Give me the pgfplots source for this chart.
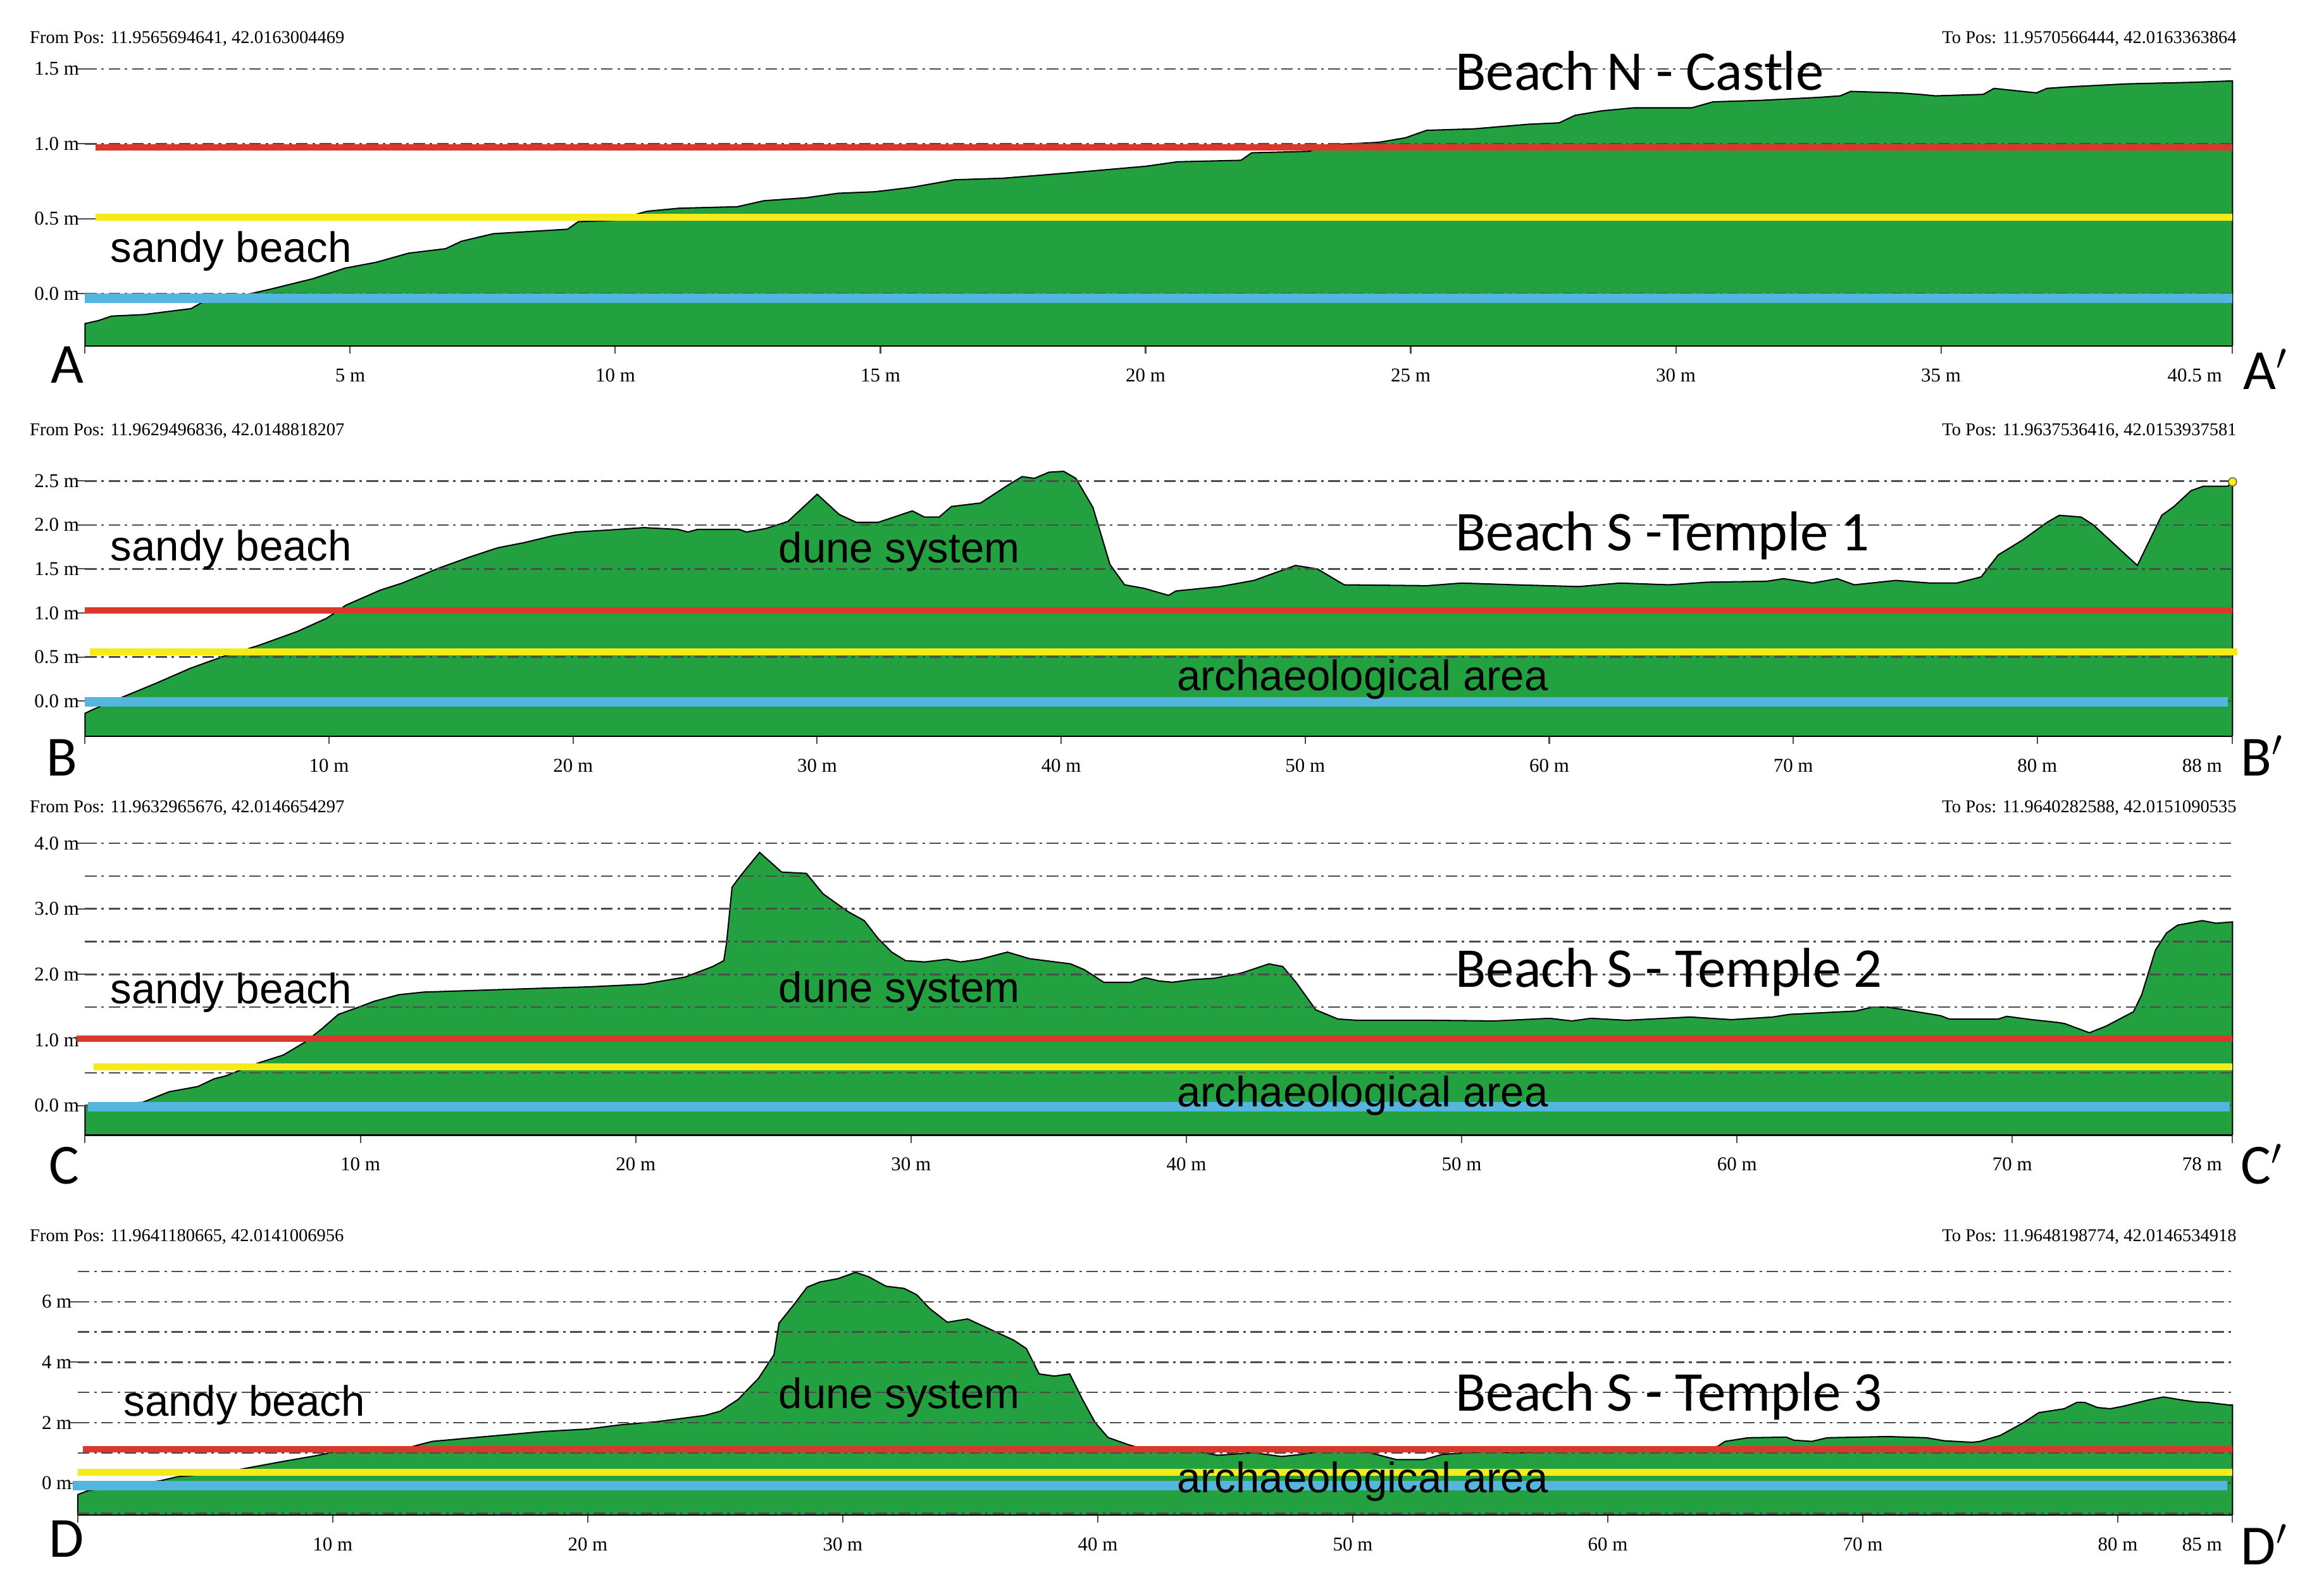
\documentclass[border=0pt]{standalone}
\usepackage{fontspec}
\setmainfont{Liberation Serif}
\newfontfamily\labfont{Liberation Sans}
\newfontfamily\bigfont{Carlito}
\usepackage{pgfplots}
\pgfplotsset{compat=1.18}

\definecolor{terrain}{RGB}{35,160,64}
\definecolor{seared}{RGB}{218,56,42}
\definecolor{seayel}{RGB}{245,235,25}
\definecolor{seablue}{RGB}{84,182,222}

\pgfplotsset{
  profile/.style={
    scale only axis, set layers, clip=false,
    axis x line=bottom, axis y line=left,
    x axis line style={-, draw=black, line width=0.6pt},
    y axis line style={draw=none},
    tick align=outside,
    xtick style={draw=black!70, line width=0.5pt},
    ytick style={draw=black!70, line width=0.5pt},
    major tick length=3pt, minor tick length=0pt,
    ymajorgrids, yminorgrids,
    major grid style={draw=black!70, line width=0.6pt, dash pattern=on 4.5pt off 1.8pt on 1pt off 1.8pt},
    minor grid style={draw=black!70, line width=0.6pt, dash pattern=on 4.5pt off 1.8pt on 1pt off 1.8pt},
    tick label style={font=\fontsize{7.6}{8}\selectfont, text=black},
    xticklabel style={yshift=-0.8mm},
    yticklabel style={inner sep=0pt, xshift=0.3mm},
    extra x tick style={xticklabel style={anchor=north east, xshift=-0.2mm}},
    xmin=0,
  },
  ground/.style={on layer=axis background, fill=terrain, draw=black, line width=0.5pt},
  redl/.style={seared, line width=2.5pt},
  yell/.style={seayel, line width=2.8pt},
  bluel/.style={seablue, line width=3.6pt},
}
\tikzset{
  coordtxt/.style={inner sep=0pt, font=\fontsize{7.0}{8}\selectfont},
  zonelab/.style={inner sep=0pt, anchor=base west, font=\labfont\fontsize{16.5}{18}\selectfont},
  ttl/.style={inner sep=0pt, anchor=base west, font=\bigfont\fontsize{21.8}{24}\selectfont},
  secl/.style={inner sep=0pt, anchor=base west, font=\bigfont\fontsize{22}{24}\selectfont},
}

\begin{document}
\begin{tikzpicture}

% A - Beach N - Castle
\begin{axis}[profile, at={(11.6mm,170.4mm)}, anchor=south west,
  width=292.8mm, height=37.8mm, xmax=40.5, ymin=-0.35, ymax=1.5,
  xtick={0,5,10,15,20,25,30,35},
  xticklabels={{},5 m,10 m,15 m,20 m,25 m,30 m,35 m},
  extra x ticks={40.5}, extra x tick labels={40.5 m},
  ytick={0,0.5,1,1.5}, yticklabels={0.0 m,0.5 m,1.0 m,1.5 m}]
\addplot[ground] coordinates {
 (0,-0.35) (0,-0.20) (0.25,-0.18) (0.5,-0.15) (1.1,-0.14) (2.0,-0.10) (2.2,-0.06)
 (3.0,-0.01) (3.5,0.03) (4.3,0.10) (4.9,0.17) (5.5,0.21) (6.1,0.27) (6.8,0.30)
 (7.1,0.35) (7.7,0.40) (9.1,0.43) (9.3,0.48) (10.0,0.49) (10.6,0.55) (11.2,0.57)
 (12.3,0.58) (12.8,0.62) (13.6,0.64) (14.2,0.67) (14.9,0.68) (15.6,0.71) (16.4,0.76)
 (17.3,0.77) (18.7,0.81) (20.0,0.85) (20.6,0.88) (21.8,0.89) (22.0,0.94) (23.1,0.95)
 (23.3,0.99) (24.4,1.01) (24.9,1.04) (25.3,1.09) (26.2,1.10) (27.2,1.13) (27.8,1.14)
 (28.1,1.19) (28.6,1.22) (29.2,1.24) (30.3,1.24) (30.7,1.28) (31.6,1.29) (32.7,1.31)
 (33.1,1.32) (33.3,1.35) (34.2,1.34) (34.6,1.33) (34.9,1.32) (35.8,1.33) (36.0,1.37)
 (36.8,1.34) (37.0,1.37) (37.4,1.38) (38.5,1.40) (39.7,1.41) (40.5,1.42) (40.5,-0.35)};
\addplot[redl] coordinates {(0.2,0.975) (40.5,0.975)};
\addplot[yell] coordinates {(0.2,0.51) (40.5,0.51)};
\addplot[bluel] coordinates {(0,-0.03) (40.5,-0.03)};
\end{axis}

% B - Beach S - Temple 1
\begin{axis}[profile, at={(11.6mm,117.2mm)}, anchor=south west,
  width=292.8mm, height=34.8mm, xmax=88, ymin=-0.4, ymax=2.5,
  xtick={0,10,20,30,40,50,60,70,80},
  xticklabels={{},10 m,20 m,30 m,40 m,50 m,60 m,70 m,80 m},
  extra x ticks={88}, extra x tick labels={88 m},
  ytick={0,0.5,1,1.5,2,2.5}, yticklabels={0.0 m,0.5 m,1.0 m,1.5 m,2.0 m,2.5 m}]
\addplot[ground] coordinates {
 (0,-0.4) (0,-0.14) (0.3,-0.10) (1.5,0.04) (2.9,0.20) (4.3,0.37) (5.6,0.50) (7.1,0.63)
 (8.7,0.79) (9.9,0.94) (10.7,1.09) (12.1,1.26) (13.0,1.34) (14.5,1.51) (15.7,1.63)
 (16.9,1.74) (18.0,1.80) (19.2,1.88) (20.1,1.92) (21.3,1.94) (22.9,1.97) (24.3,1.95)
 (24.7,1.92) (25.1,1.95) (26.8,1.95) (27.1,1.92) (27.9,1.96) (28.8,2.04) (30.0,2.35)
 (30.9,2.12) (31.6,2.03) (32.5,2.03) (33.9,2.16) (34.4,2.09) (35.0,2.09) (35.5,2.21)
 (36.7,2.25) (37.8,2.45) (38.4,2.55) (38.9,2.53) (39.5,2.60) (40.1,2.61) (40.6,2.53)
 (41.3,2.20) (42.0,1.55) (42.6,1.32) (43.4,1.28) (44.4,1.20) (44.7,1.25) (46.5,1.30)
 (47.9,1.37) (49.6,1.54) (50.5,1.50) (51.6,1.32) (55.0,1.31) (56.4,1.34) (58.6,1.32)
 (61.2,1.30) (62.9,1.34) (64.9,1.32) (66.5,1.35) (68.9,1.36) (69.6,1.39) (70.8,1.34)
 (71.8,1.39) (72.5,1.32) (74.2,1.37) (75.6,1.34) (76.7,1.34) (77.7,1.41) (78.4,1.66)
 (79.4,1.83) (80.4,2.03) (80.9,2.11) (81.8,2.09) (82.3,2.00) (84.1,1.54) (85.1,2.11)
 (85.6,2.21) (86.3,2.39) (86.8,2.44) (87.8,2.44) (88,2.49) (88,-0.4)};
\addplot[redl] coordinates {(0,1.03) (88,1.03)};
\addplot[yell] coordinates {(0.2,0.56) (88.2,0.56)};
\addplot[bluel] coordinates {(0,-0.01) (87.8,-0.01)};
\addplot[only marks, mark=*, mark size=1.6pt, mark options={fill=yellow, draw=black!60}] coordinates {(88,2.49)};
\end{axis}

% C - Beach S - Temple 2
\begin{axis}[profile, at={(11.6mm,62.8mm)}, anchor=south west,
  width=292.8mm, height=39.8mm, xmax=78, ymin=-0.45, ymax=4,
  xtick={0,10,20,30,40,50,60,70},
  xticklabels={{},10 m,20 m,30 m,40 m,50 m,60 m,70 m},
  extra x ticks={78}, extra x tick labels={78 m},
  ytick={0,1,2,3,4}, yticklabels={0.0 m,1.0 m,2.0 m,3.0 m,4.0 m},
  minor ytick={0.5,1.5,2.5,3.5}]
\addplot[ground] coordinates {
 (0,-0.45) (0,0.0) (2.1,0.05) (3.05,0.21) (4.1,0.29) (4.7,0.41) (5.1,0.45) (6.3,0.65)
 (7.2,0.77) (8.0,0.97) (8.6,1.17) (9.2,1.39) (10.0,1.51) (10.5,1.59) (11.4,1.69)
 (12.3,1.73) (14.5,1.76) (16.7,1.79) (18.3,1.81) (20.3,1.85) (21.8,1.96) (22.8,2.12)
 (23.2,2.21) (23.3,2.48) (23.5,3.33) (23.8,3.50) (24.5,3.86) (25.3,3.56) (26.2,3.54)
 (26.8,3.23) (27.7,2.96) (28.3,2.82) (28.8,2.55) (29.3,2.34) (29.8,2.21) (30.5,2.19)
 (31.3,2.23) (31.8,2.19) (32.5,2.23) (33.5,2.34) (34.3,2.24) (35.8,2.16) (36.3,2.07)
 (37.0,1.88) (38.0,1.88) (38.5,1.95) (39.0,1.90) (39.5,1.88) (40.2,1.92) (41.0,1.94)
 (42.0,2.02) (43.0,2.16) (43.5,2.12) (44.0,1.87) (44.7,1.46) (45.5,1.32) (46.2,1.30)
 (48.7,1.30) (51.2,1.29) (53.2,1.33) (54.0,1.29) (54.7,1.33) (56.0,1.30) (58.3,1.35)
 (59.8,1.31) (61.3,1.35) (61.9,1.39) (64.3,1.44) (64.9,1.50) (65.5,1.50) (67.4,1.37)
 (67.7,1.32) (69.5,1.32) (69.8,1.36) (70.7,1.31) (71.6,1.27) (71.9,1.25) (72.8,1.11)
 (73.4,1.21) (74.4,1.43) (74.7,1.69) (75.2,2.37) (75.6,2.63) (76.0,2.75) (76.9,2.82)
 (77.4,2.78) (78.0,2.80) (78,-0.45)};
\addplot[redl] coordinates {(-0.3,1.02) (78,1.02)};
\addplot[yell] coordinates {(0.3,0.59) (78,0.59)};
\addplot[bluel] coordinates {(0.1,-0.02) (77.9,-0.02)};
\end{axis}

% D - Beach S - Temple 3
\begin{axis}[profile, at={(10.6mm,11.0mm)}, anchor=south west,
  width=293.8mm, height=33.2mm, xmax=84.5, ymin=-1.05, ymax=7,
  xtick={0,10,20,30,40,50,60,70,80},
  xticklabels={{},10 m,20 m,30 m,40 m,50 m,60 m,70 m,80 m},
  extra x ticks={84.5}, extra x tick labels={85 m},
  ytick={0,2,4,6}, yticklabels={0 m,2 m,4 m,6 m},
  minor ytick={-1,1,3,5,7}]
\addplot[ground] coordinates {
 (0,-1.05) (0,-0.38) (0.4,-0.25) (3.25,0.08) (3.9,0.21) (5.0,0.29) (6.4,0.46) (8.0,0.71)
 (9.3,0.90) (10.1,1.04) (12.8,1.13) (13.3,1.25) (13.9,1.38) (16.0,1.54) (18.3,1.71)
 (20.0,1.79) (21.3,1.93) (22.7,2.03) (24.6,2.24) (25.2,2.38) (25.9,2.77) (26.7,3.47)
 (27.3,4.24) (27.5,5.29) (28.1,5.92) (28.6,6.48) (29.1,6.65) (29.8,6.76) (30.5,6.97)
 (31.0,6.83) (31.7,6.51) (32.4,6.44) (32.9,6.23) (33.4,5.78) (34.1,5.32) (34.9,5.43)
 (35.9,5.04) (36.7,4.73) (37.2,4.45) (37.7,3.61) (38.3,3.54) (38.9,3.61) (39.4,2.77)
 (39.9,2.00) (40.4,1.51) (41.2,1.27) (41.5,1.20) (43.4,1.13) (44.7,0.92) (46.1,1.01)
 (47.2,0.88) (48.0,0.95) (49.0,1.09) (50.6,1.02) (51.7,0.78) (52.8,0.78) (53.5,0.95)
 (55.5,1.06) (56.3,0.99) (58.2,1.09) (62.7,1.13) (64.3,1.21) (64.6,1.38) (65.5,1.50)
 (67.0,1.52) (67.3,1.42) (68.0,1.38) (68.6,1.50) (71.0,1.54) (72.5,1.50) (73.2,1.40)
 (74.3,1.35) (74.6,1.38) (75.4,1.58) (76.3,2.00) (76.9,2.33) (77.9,2.46) (78.4,2.67)
 (78.7,2.67) (79.2,2.50) (79.7,2.46) (80.2,2.54) (81.2,2.75) (81.8,2.85) (82.5,2.75)
 (83.1,2.68) (83.5,2.67) (84.4,2.58) (84.5,2.58) (84.5,-1.05)};
\addplot[redl] coordinates {(0.2,1.12) (84.5,1.12)};
\addplot[yell] coordinates {(0,0.36) (84.5,0.36)};
\addplot[bluel] coordinates {(-0.2,-0.08) (84.3,-0.08)};
\end{axis}

% coordinates of the profile ends
\node[coordtxt, anchor=west] at (4.0mm,212.3mm) {From Pos: 11.9565694641, 42.0163004469};
\node[coordtxt, anchor=east] at (305.0mm,212.3mm) {To Pos: 11.9570566444, 42.0163363864};
\node[coordtxt, anchor=west] at (4.0mm,158.8mm) {From Pos: 11.9629496836, 42.0148818207};
\node[coordtxt, anchor=east] at (305.0mm,158.8mm) {To Pos: 11.9637536416, 42.0153937581};
\node[coordtxt, anchor=west] at (4.0mm,107.4mm) {From Pos: 11.9632965676, 42.0146654297};
\node[coordtxt, anchor=east] at (305.0mm,107.4mm) {To Pos: 11.9640282588, 42.0151090535};
\node[coordtxt, anchor=west] at (4.0mm,48.9mm) {From Pos: 11.9641180665, 42.0141006956};
\node[coordtxt, anchor=east] at (305.0mm,48.9mm) {To Pos: 11.9648198774, 42.0146534918};

% titles
\node[ttl] at (198.4mm,205.3mm) {Beach N - Castle};
\node[ttl] at (198.4mm,142.5mm) {Beach S -Temple 1};
\node[ttl] at (198.4mm,83.0mm) {Beach S - Temple 2};
\node[ttl] at (198.4mm,25.2mm) {Beach S - Temple 3};

% zone labels
\node[zonelab] at (15.0mm,181.8mm) {sandy beach};
\node[zonelab] at (15.0mm,141.1mm) {sandy beach};
\node[zonelab] at (106.1mm,140.9mm) {dune system};
\node[zonelab] at (160.4mm,123.4mm) {archaeological area};
\node[zonelab] at (15.0mm,80.7mm) {sandy beach};
\node[zonelab] at (106.1mm,80.9mm) {dune system};
\node[zonelab] at (160.4mm,66.7mm) {archaeological area};
\node[zonelab] at (16.8mm,24.5mm) {sandy beach};
\node[zonelab] at (106.1mm,25.5mm) {dune system};
\node[zonelab] at (160.4mm,14.0mm) {archaeological area};

% section letters
\node[secl] at (6.9mm,165.4mm) {A};
\node[secl] at (305.8mm,164.5mm) {A$'$};
\node[secl] at (6.3mm,111.8mm) {B};
\node[secl] at (305.5mm,111.8mm) {B$'$};
\node[secl] at (6.6mm,56.1mm) {C};
\node[secl] at (305.5mm,56.1mm) {C$'$};
\node[secl] at (6.6mm,5.2mm) {D};
\node[secl] at (305.5mm,4.2mm) {D$'$};

\path (0,0) rectangle (313.6mm,217.6mm);
\end{tikzpicture}
\end{document}
